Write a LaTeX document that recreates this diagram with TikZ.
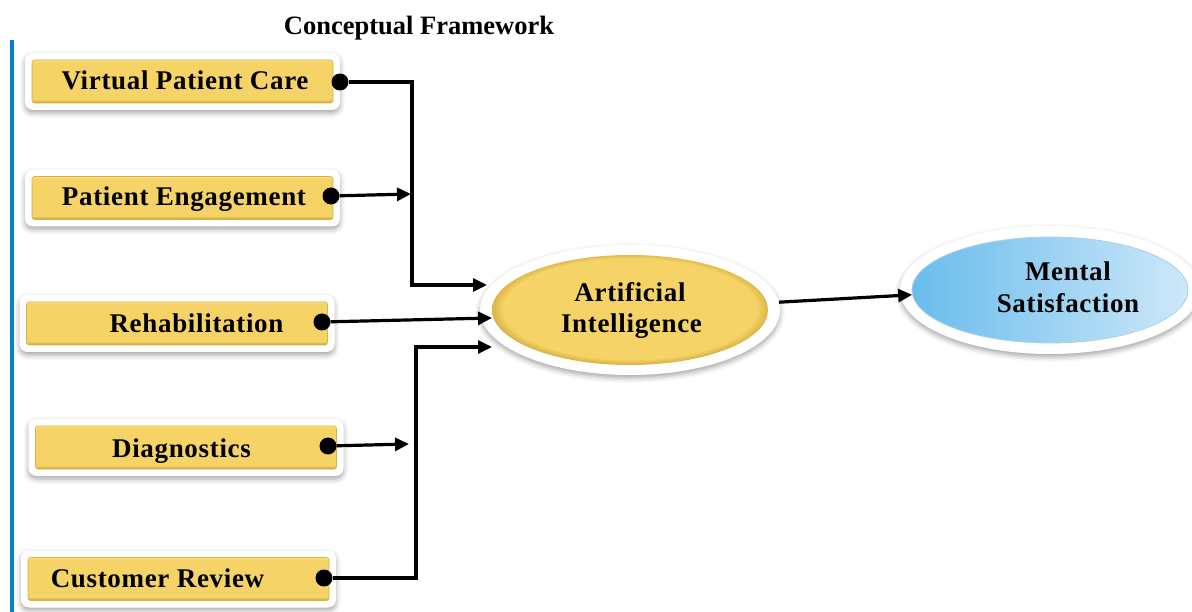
\documentclass[tikz,border=0pt]{standalone}
\usepackage{fontspec}
\setmainfont{Liberation Serif}
\newfontfamily\spacedserif[LetterSpace=2.5]{Liberation Serif}
\usetikzlibrary{arrows.meta,shapes.geometric,shadows.blur}

\definecolor{ytop}{RGB}{250,224,128}
\definecolor{ymid}{RGB}{246,211,102}
\definecolor{ybot}{RGB}{196,156,48}
\definecolor{bleft}{RGB}{105,188,236}
\definecolor{bright}{RGB}{205,232,249}
\definecolor{bdark}{RGB}{70,150,205}
\definecolor{rulecol}{RGB}{0,130,200}

% bevelled gold bar: dark lower edge, light upper edge
\pgfdeclareverticalshading{goldbar}{100bp}{color(0bp)=(ybot); color(25bp)=(ybot); color(29bp)=(ymid); color(72bp)=(ymid); color(75bp)=(ytop); color(100bp)=(ytop)}
% gold oval, flat with a thin darker rim
\pgfdeclareradialshading{goldoval}{\pgfpoint{0bp}{1bp}}{color(0bp)=(ymid); color(23bp)=(ymid); color(25bp)=(ybot!55!ymid); color(50bp)=(ybot)}
% sky-blue oval, deeper on the left
\pgfdeclarehorizontalshading{blueoval}{100bp}{color(0bp)=(bleft); color(25bp)=(bleft); color(75bp)=(bright); color(100bp)=(bright)}

\begin{document}
\begin{tikzpicture}[x=1pt,y=-1pt,
  halo/.style={fill=white, blur shadow={shadow xshift=0pt, shadow yshift=-3pt, shadow blur radius=5pt, shadow opacity=35}},
  boxhalo/.style={halo, rectangle, rounded corners=8pt, minimum width=315pt, minimum height=57pt, inner sep=0pt},
  barshape/.style={rectangle, rounded corners=2.5pt, minimum width=301pt, minimum height=43pt, inner sep=0pt, shade, shading=goldbar, draw=ybot!60!ymid, line width=0.6pt},
  boxtext/.style={font=\spacedserif\bfseries\fontsize{27}{30}\selectfont, anchor=base, inner sep=0pt},
  titletext/.style={font=\bfseries\fontsize{26.5}{30}\selectfont, anchor=base, inner sep=0pt},
  ovalhalo/.style={halo, ellipse, inner sep=0pt, minimum width=300pt, minimum height=130pt},
  blackdot/.style={circle, fill=black, minimum size=17pt, inner sep=0pt},
  conn/.style={line width=3.2pt, -{Triangle[length=14pt,width=13pt]}}
]
\useasboundingbox (0,0) rectangle (1192,612);

% title and left rule
\node[titletext] (title) at (419,35) {Conceptual Framework};
\draw[rulecol, line width=3.5pt] (12,40) -- (12,612);

% factor boxes
\node[boxhalo] (h1) at (182.5,81.5) {};
\node[barshape] (b1) at (182.5,81.5) {};
\node[boxtext] (t1) at (185,90) {Virtual Patient Care};

\node[boxhalo] (h2) at (182.5,198) {};
\node[barshape] (b2) at (182.5,198) {};
\node[boxtext] (t2) at (184,206) {Patient Engagement};

\node[boxhalo] (h3) at (177,323.5) {};
\node[barshape] (b3) at (177,323.5) {};
\node[boxtext] (t3) at (196.5,333) {Rehabilitation};

\node[boxhalo] (h4) at (186,447.5) {};
\node[barshape] (b4) at (186,447.5) {};
\node[boxtext] (t4) at (181.5,457) {Diagnostics};

\node[boxhalo] (h5) at (178.5,579) {};
\node[barshape] (b5) at (178.5,579) {};
\node[boxtext] (t5) at (157.5,587) {Customer Review};

% central and outcome ovals
\node[ovalhalo] (ai) at (630,310) {};
\node[ellipse, inner sep=0pt, minimum width=276pt, minimum height=110pt, shade, shading=goldoval] (aiin) at (630,310) {};
\node[boxtext] (ai1) at (630,302) {Artificial};
\node[boxtext] (ai2) at (631.5,333) {Intelligence};

\node[ovalhalo, minimum height=128pt] (ms) at (1050,290) {};
\node[ellipse, inner sep=0pt, minimum width=276pt, minimum height=106pt, shade, shading=blueoval, draw=bdark!45!white, line width=0.8pt] (msin) at (1050,290) {};
\node[boxtext] (ms1) at (1068,281) {Mental};
\node[boxtext] (ms2) at (1068,313) {Satisfaction};

% connector end points
\coordinate (k1) at (412,285);
\coordinate (a1) at (487,285);
\coordinate (j2) at (411,194);
\coordinate (a2) at (492,318);
\coordinate (j4) at (409,444);
\coordinate (k5) at (416,347);
\coordinate (a3) at (492,347);

% dots on the boxes
\node[blackdot] (d1) at (340,82) {};
\node[blackdot] (d2) at (331,196) {};
\node[blackdot] (d3) at (322,322) {};
\node[blackdot] (d4) at (328,446) {};
\node[blackdot] (d5) at (324,578) {};

% connectors
\draw[conn] (d1) -| (k1) -- (a1);
\draw[conn] (d2) -- (j2);
\draw[conn] (d3) -- (a2);
\draw[conn] (d4) -- (j4);
\draw[conn] (d5) -| (k5) -- (a3);
\draw[conn] (ai.3) -- (msin.182);
\end{tikzpicture}
\end{document}
